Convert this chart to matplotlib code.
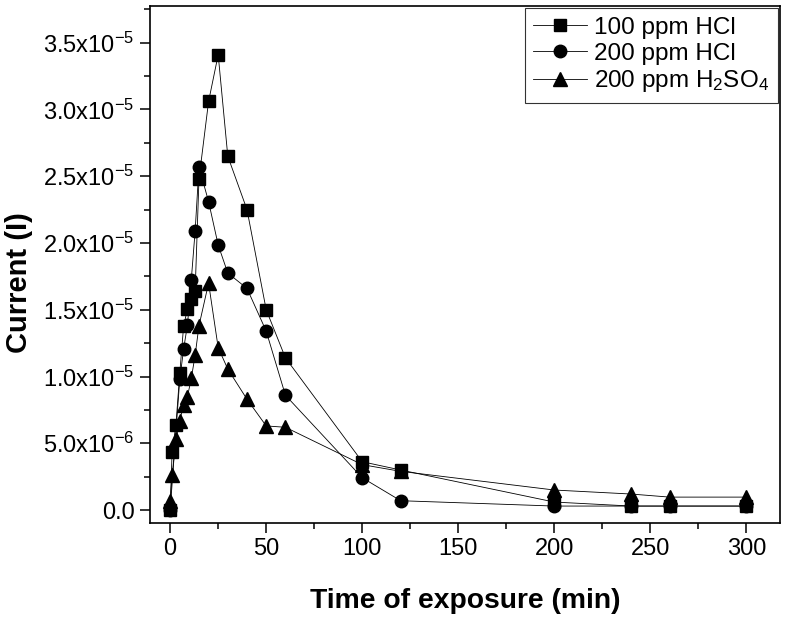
import matplotlib
matplotlib.use("Agg")
import matplotlib.pyplot as plt
import numpy as np
from matplotlib.ticker import MultipleLocator, FuncFormatter

plt.rcParams['font.family'] = ['Liberation Sans', 'DejaVu Sans']
plt.rcParams['mathtext.fontset'] = 'custom'
plt.rcParams['mathtext.rm'] = 'Liberation Sans'
plt.rcParams['mathtext.it'] = 'Liberation Sans'
plt.rcParams['mathtext.default'] = 'regular'

# time of exposure (min)
t_hcl100 = [0, 1, 3, 5, 7, 9, 11, 13, 15, 20, 25, 30, 40, 50, 60, 100, 120, 200, 240, 260, 300]
i_hcl100 = [0.0, 0.437e-5, 0.637e-5, 1.024e-5, 1.378e-5, 1.506e-5, 1.58e-5, 1.64e-5, 2.48e-5,
            3.06e-5, 3.41e-5, 2.65e-5, 2.25e-5, 1.50e-5, 1.14e-5, 0.362e-5, 0.30e-5,
            0.06e-5, 0.03e-5, 0.03e-5, 0.03e-5]

t_hcl200 = [0, 5, 7, 9, 11, 13, 15, 20, 25, 30, 40, 50, 60, 100, 120, 200, 240, 260, 300]
i_hcl200 = [0.0, 0.979e-5, 1.206e-5, 1.386e-5, 1.725e-5, 2.09e-5, 2.57e-5, 2.31e-5, 1.985e-5,
            1.775e-5, 1.66e-5, 1.34e-5, 0.86e-5, 0.242e-5, 0.07e-5, 0.03e-5, 0.03e-5,
            0.03e-5, 0.03e-5]

t_h2so4 = [0, 1, 3, 5, 7, 9, 11, 13, 15, 20, 25, 30, 40, 50, 60, 100, 120, 200, 240, 260, 300]
i_h2so4 = [0.07e-5, 0.26e-5, 0.53e-5, 0.67e-5, 0.79e-5, 0.85e-5, 0.986e-5, 1.16e-5, 1.38e-5,
           1.70e-5, 1.216e-5, 1.056e-5, 0.83e-5, 0.63e-5, 0.62e-5, 0.34e-5, 0.29e-5,
           0.15e-5, 0.12e-5, 0.097e-5, 0.097e-5]

labels = ['100 ppm HCl', '200 ppm HCl', '200 ppm H$_2$SO$_4$']

fig = plt.figure(figsize=(8, 6.18), dpi=100)
ax = fig.add_axes([0.1875, 0.1537, 0.975 - 0.1875, 0.9903 - 0.1537])

line_kw = dict(color='black', linewidth=0.6, markerfacecolor='black', markeredgecolor='black')
ax.plot(t_hcl100, i_hcl100, marker='s', markersize=8, label=labels[0], **line_kw)
ax.plot(t_hcl200, i_hcl200, marker='o', markersize=9, label=labels[1], **line_kw)
ax.plot(t_h2so4, i_h2so4, marker='^', markersize=9.5, label=labels[2], **line_kw)

ax.set_xlim(-10.5, 317.5)
ax.set_ylim(-0.97e-6, 3.775e-5)

ax.xaxis.set_major_locator(MultipleLocator(50))
ax.xaxis.set_minor_locator(MultipleLocator(25))
ax.yaxis.set_major_locator(MultipleLocator(5e-6))
ax.yaxis.set_minor_locator(MultipleLocator(2.5e-6))


def yfmt(v, pos):
    if abs(v) < 1e-12:
        return '0.0'
    exp = int(np.floor(np.log10(abs(v))))
    mant = v / 10 ** exp
    return '%.1fx10$^{%d}$' % (mant, exp)


ax.yaxis.set_major_formatter(FuncFormatter(yfmt))

ax.tick_params(which='both', direction='out', top=False, right=False)
ax.tick_params(which='major', length=7, width=1.1, labelsize=17, pad=4)
ax.tick_params(which='minor', length=4, width=1.1)
for s in ax.spines.values():
    s.set_linewidth(1.2)

ax.set_xlabel('Time of exposure (min)', fontsize=20.3, fontweight='bold', labelpad=20)
ax.set_ylabel('Current (I)', fontsize=21, fontweight='bold')
ax.yaxis.set_label_coords(-0.185, 0.466)

leg = ax.legend(loc='upper right', fontsize=17.5, frameon=True, fancybox=False,
                edgecolor='black', handlelength=2.2, handletextpad=0.3,
                borderpad=0.35, labelspacing=0.15, borderaxespad=0.1)
leg.get_frame().set_linewidth(0.8)

fig.savefig('out.png', dpi=100)
